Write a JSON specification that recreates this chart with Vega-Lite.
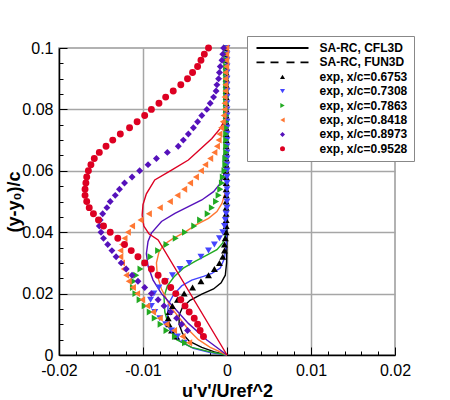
{
  "$schema": "https://vega.github.io/schema/vega-lite/v6.json",
  "width": 336,
  "height": 307,
  "autosize": "none",
  "padding": {"left": 59, "top": 48, "right": 55, "bottom": 45},
  "config": {
    "font": "Liberation Sans",
    "view": {"stroke": "#999999", "strokeWidth": 1.5}
  },
  "datasets": {
    "exp": [
      {"series": "exp, x/c=0.6753", "x": -0.0001, "y": 0.1},
      {"series": "exp, x/c=0.6753", "x": -0.0001, "y": 0.098},
      {"series": "exp, x/c=0.6753", "x": -0.0001, "y": 0.096},
      {"series": "exp, x/c=0.6753", "x": -0.0001, "y": 0.094},
      {"series": "exp, x/c=0.6753", "x": -0.0001, "y": 0.092},
      {"series": "exp, x/c=0.6753", "x": -0.0001, "y": 0.09},
      {"series": "exp, x/c=0.6753", "x": -0.0001, "y": 0.088},
      {"series": "exp, x/c=0.6753", "x": -0.0001, "y": 0.086},
      {"series": "exp, x/c=0.6753", "x": -0.0001, "y": 0.084},
      {"series": "exp, x/c=0.6753", "x": -0.0001, "y": 0.082},
      {"series": "exp, x/c=0.6753", "x": -0.0001, "y": 0.08},
      {"series": "exp, x/c=0.6753", "x": -0.0001, "y": 0.078},
      {"series": "exp, x/c=0.6753", "x": -0.0001, "y": 0.076},
      {"series": "exp, x/c=0.6753", "x": -0.0001, "y": 0.074},
      {"series": "exp, x/c=0.6753", "x": -0.0001, "y": 0.072},
      {"series": "exp, x/c=0.6753", "x": -0.0001, "y": 0.07},
      {"series": "exp, x/c=0.6753", "x": -0.0001, "y": 0.068},
      {"series": "exp, x/c=0.6753", "x": -0.0001, "y": 0.066},
      {"series": "exp, x/c=0.6753", "x": -0.0001, "y": 0.064},
      {"series": "exp, x/c=0.6753", "x": -0.0001, "y": 0.062},
      {"series": "exp, x/c=0.6753", "x": -0.0001, "y": 0.06},
      {"series": "exp, x/c=0.6753", "x": -0.0001, "y": 0.058},
      {"series": "exp, x/c=0.6753", "x": -0.0001, "y": 0.056},
      {"series": "exp, x/c=0.6753", "x": -0.0001, "y": 0.054},
      {"series": "exp, x/c=0.6753", "x": -0.0001, "y": 0.052},
      {"series": "exp, x/c=0.6753", "x": -0.0001, "y": 0.05},
      {"series": "exp, x/c=0.6753", "x": -0.0001, "y": 0.048},
      {"series": "exp, x/c=0.6753", "x": -0.0001, "y": 0.046},
      {"series": "exp, x/c=0.6753", "x": -0.0001, "y": 0.044},
      {"series": "exp, x/c=0.6753", "x": -0.0001, "y": 0.042},
      {"series": "exp, x/c=0.6753", "x": -0.0001, "y": 0.04},
      {"series": "exp, x/c=0.6753", "x": -0.0002, "y": 0.038},
      {"series": "exp, x/c=0.6753", "x": -0.0003, "y": 0.036},
      {"series": "exp, x/c=0.6753", "x": -0.0003, "y": 0.034},
      {"series": "exp, x/c=0.6753", "x": -0.0005, "y": 0.032},
      {"series": "exp, x/c=0.6753", "x": -0.0009, "y": 0.03},
      {"series": "exp, x/c=0.6753", "x": -0.0015, "y": 0.028},
      {"series": "exp, x/c=0.6753", "x": -0.0022, "y": 0.026},
      {"series": "exp, x/c=0.6753", "x": -0.0031, "y": 0.024},
      {"series": "exp, x/c=0.6753", "x": -0.0041, "y": 0.022},
      {"series": "exp, x/c=0.6753", "x": -0.0051, "y": 0.02},
      {"series": "exp, x/c=0.6753", "x": -0.0059, "y": 0.018},
      {"series": "exp, x/c=0.6753", "x": -0.0065, "y": 0.016},
      {"series": "exp, x/c=0.6753", "x": -0.0069, "y": 0.014},
      {"series": "exp, x/c=0.6753", "x": -0.007, "y": 0.012},
      {"series": "exp, x/c=0.6753", "x": -0.0069, "y": 0.01},
      {"series": "exp, x/c=0.6753", "x": -0.0066, "y": 0.008},
      {"series": "exp, x/c=0.6753", "x": -0.006, "y": 0.006},
      {"series": "exp, x/c=0.7308", "x": 0, "y": 0.1},
      {"series": "exp, x/c=0.7308", "x": 0, "y": 0.098},
      {"series": "exp, x/c=0.7308", "x": 0, "y": 0.096},
      {"series": "exp, x/c=0.7308", "x": 0, "y": 0.094},
      {"series": "exp, x/c=0.7308", "x": 0, "y": 0.092},
      {"series": "exp, x/c=0.7308", "x": 0, "y": 0.09},
      {"series": "exp, x/c=0.7308", "x": 0, "y": 0.088},
      {"series": "exp, x/c=0.7308", "x": 0, "y": 0.086},
      {"series": "exp, x/c=0.7308", "x": 0, "y": 0.084},
      {"series": "exp, x/c=0.7308", "x": 0, "y": 0.082},
      {"series": "exp, x/c=0.7308", "x": 0, "y": 0.08},
      {"series": "exp, x/c=0.7308", "x": 0, "y": 0.078},
      {"series": "exp, x/c=0.7308", "x": 0, "y": 0.076},
      {"series": "exp, x/c=0.7308", "x": 0, "y": 0.074},
      {"series": "exp, x/c=0.7308", "x": 0, "y": 0.072},
      {"series": "exp, x/c=0.7308", "x": 0, "y": 0.07},
      {"series": "exp, x/c=0.7308", "x": 0, "y": 0.068},
      {"series": "exp, x/c=0.7308", "x": 0, "y": 0.066},
      {"series": "exp, x/c=0.7308", "x": 0, "y": 0.064},
      {"series": "exp, x/c=0.7308", "x": 0, "y": 0.062},
      {"series": "exp, x/c=0.7308", "x": 0, "y": 0.06},
      {"series": "exp, x/c=0.7308", "x": 0, "y": 0.058},
      {"series": "exp, x/c=0.7308", "x": 0, "y": 0.056},
      {"series": "exp, x/c=0.7308", "x": 0, "y": 0.054},
      {"series": "exp, x/c=0.7308", "x": 0, "y": 0.052},
      {"series": "exp, x/c=0.7308", "x": 0, "y": 0.05},
      {"series": "exp, x/c=0.7308", "x": 0, "y": 0.048},
      {"series": "exp, x/c=0.7308", "x": -0.0001, "y": 0.046},
      {"series": "exp, x/c=0.7308", "x": -0.0002, "y": 0.044},
      {"series": "exp, x/c=0.7308", "x": -0.0003, "y": 0.042},
      {"series": "exp, x/c=0.7308", "x": -0.0005, "y": 0.04},
      {"series": "exp, x/c=0.7308", "x": -0.0009, "y": 0.038},
      {"series": "exp, x/c=0.7308", "x": -0.0015, "y": 0.036},
      {"series": "exp, x/c=0.7308", "x": -0.0022, "y": 0.034},
      {"series": "exp, x/c=0.7308", "x": -0.0031, "y": 0.032},
      {"series": "exp, x/c=0.7308", "x": -0.0045, "y": 0.03},
      {"series": "exp, x/c=0.7308", "x": -0.0056, "y": 0.028},
      {"series": "exp, x/c=0.7308", "x": -0.0065, "y": 0.026},
      {"series": "exp, x/c=0.7308", "x": -0.0073, "y": 0.024},
      {"series": "exp, x/c=0.7308", "x": -0.0081, "y": 0.022},
      {"series": "exp, x/c=0.7308", "x": -0.0087, "y": 0.02},
      {"series": "exp, x/c=0.7308", "x": -0.0091, "y": 0.018},
      {"series": "exp, x/c=0.7308", "x": -0.009, "y": 0.016},
      {"series": "exp, x/c=0.7308", "x": -0.0086, "y": 0.014},
      {"series": "exp, x/c=0.7308", "x": -0.008, "y": 0.012},
      {"series": "exp, x/c=0.7308", "x": -0.0073, "y": 0.01},
      {"series": "exp, x/c=0.7308", "x": -0.0066, "y": 0.008},
      {"series": "exp, x/c=0.7308", "x": -0.0059, "y": 0.006},
      {"series": "exp, x/c=0.7308", "x": -0.0051, "y": 0.004},
      {"series": "exp, x/c=0.7863", "x": -0.0001, "y": 0.1},
      {"series": "exp, x/c=0.7863", "x": -0.0001, "y": 0.098},
      {"series": "exp, x/c=0.7863", "x": -0.0001, "y": 0.096},
      {"series": "exp, x/c=0.7863", "x": -0.0001, "y": 0.094},
      {"series": "exp, x/c=0.7863", "x": -0.0001, "y": 0.092},
      {"series": "exp, x/c=0.7863", "x": -0.0001, "y": 0.09},
      {"series": "exp, x/c=0.7863", "x": -0.0001, "y": 0.088},
      {"series": "exp, x/c=0.7863", "x": -0.0001, "y": 0.086},
      {"series": "exp, x/c=0.7863", "x": -0.0001, "y": 0.084},
      {"series": "exp, x/c=0.7863", "x": -0.0001, "y": 0.082},
      {"series": "exp, x/c=0.7863", "x": -0.0001, "y": 0.08},
      {"series": "exp, x/c=0.7863", "x": -0.0001, "y": 0.078},
      {"series": "exp, x/c=0.7863", "x": -0.0001, "y": 0.076},
      {"series": "exp, x/c=0.7863", "x": -0.0001, "y": 0.074},
      {"series": "exp, x/c=0.7863", "x": -0.0001, "y": 0.072},
      {"series": "exp, x/c=0.7863", "x": -0.0001, "y": 0.07},
      {"series": "exp, x/c=0.7863", "x": -0.0001, "y": 0.068},
      {"series": "exp, x/c=0.7863", "x": -0.0001, "y": 0.066},
      {"series": "exp, x/c=0.7863", "x": -0.0002, "y": 0.064},
      {"series": "exp, x/c=0.7863", "x": -0.0002, "y": 0.062},
      {"series": "exp, x/c=0.7863", "x": -0.0003, "y": 0.06},
      {"series": "exp, x/c=0.7863", "x": -0.0005, "y": 0.058},
      {"series": "exp, x/c=0.7863", "x": -0.0006, "y": 0.056},
      {"series": "exp, x/c=0.7863", "x": -0.0008, "y": 0.054},
      {"series": "exp, x/c=0.7863", "x": -0.001, "y": 0.052},
      {"series": "exp, x/c=0.7863", "x": -0.0013, "y": 0.05},
      {"series": "exp, x/c=0.7863", "x": -0.0018, "y": 0.048},
      {"series": "exp, x/c=0.7863", "x": -0.0023, "y": 0.046},
      {"series": "exp, x/c=0.7863", "x": -0.0032, "y": 0.044},
      {"series": "exp, x/c=0.7863", "x": -0.0039, "y": 0.042},
      {"series": "exp, x/c=0.7863", "x": -0.005, "y": 0.04},
      {"series": "exp, x/c=0.7863", "x": -0.0061, "y": 0.038},
      {"series": "exp, x/c=0.7863", "x": -0.0072, "y": 0.036},
      {"series": "exp, x/c=0.7863", "x": -0.0082, "y": 0.034},
      {"series": "exp, x/c=0.7863", "x": -0.0091, "y": 0.032},
      {"series": "exp, x/c=0.7863", "x": -0.0098, "y": 0.03},
      {"series": "exp, x/c=0.7863", "x": -0.0103, "y": 0.028},
      {"series": "exp, x/c=0.7863", "x": -0.0108, "y": 0.026},
      {"series": "exp, x/c=0.7863", "x": -0.0111, "y": 0.024},
      {"series": "exp, x/c=0.7863", "x": -0.0112, "y": 0.022},
      {"series": "exp, x/c=0.7863", "x": -0.0109, "y": 0.02},
      {"series": "exp, x/c=0.7863", "x": -0.0104, "y": 0.018},
      {"series": "exp, x/c=0.7863", "x": -0.0098, "y": 0.016},
      {"series": "exp, x/c=0.7863", "x": -0.0092, "y": 0.014},
      {"series": "exp, x/c=0.7863", "x": -0.0086, "y": 0.012},
      {"series": "exp, x/c=0.7863", "x": -0.0079, "y": 0.01},
      {"series": "exp, x/c=0.7863", "x": -0.0072, "y": 0.008},
      {"series": "exp, x/c=0.7863", "x": -0.0062, "y": 0.006},
      {"series": "exp, x/c=0.7863", "x": -0.005, "y": 0.004},
      {"series": "exp, x/c=0.8418", "x": -0.0001, "y": 0.1},
      {"series": "exp, x/c=0.8418", "x": -0.0001, "y": 0.098},
      {"series": "exp, x/c=0.8418", "x": -0.0001, "y": 0.096},
      {"series": "exp, x/c=0.8418", "x": -0.0001, "y": 0.094},
      {"series": "exp, x/c=0.8418", "x": -0.0002, "y": 0.092},
      {"series": "exp, x/c=0.8418", "x": -0.0002, "y": 0.09},
      {"series": "exp, x/c=0.8418", "x": -0.0002, "y": 0.088},
      {"series": "exp, x/c=0.8418", "x": -0.0002, "y": 0.086},
      {"series": "exp, x/c=0.8418", "x": -0.0003, "y": 0.084},
      {"series": "exp, x/c=0.8418", "x": -0.0003, "y": 0.082},
      {"series": "exp, x/c=0.8418", "x": -0.0003, "y": 0.08},
      {"series": "exp, x/c=0.8418", "x": -0.0004, "y": 0.078},
      {"series": "exp, x/c=0.8418", "x": -0.0005, "y": 0.076},
      {"series": "exp, x/c=0.8418", "x": -0.0007, "y": 0.074},
      {"series": "exp, x/c=0.8418", "x": -0.0009, "y": 0.072},
      {"series": "exp, x/c=0.8418", "x": -0.001, "y": 0.07},
      {"series": "exp, x/c=0.8418", "x": -0.0012, "y": 0.068},
      {"series": "exp, x/c=0.8418", "x": -0.0015, "y": 0.066},
      {"series": "exp, x/c=0.8418", "x": -0.002, "y": 0.064},
      {"series": "exp, x/c=0.8418", "x": -0.0026, "y": 0.062},
      {"series": "exp, x/c=0.8418", "x": -0.0031, "y": 0.06},
      {"series": "exp, x/c=0.8418", "x": -0.0037, "y": 0.058},
      {"series": "exp, x/c=0.8418", "x": -0.0044, "y": 0.056},
      {"series": "exp, x/c=0.8418", "x": -0.0051, "y": 0.054},
      {"series": "exp, x/c=0.8418", "x": -0.0059, "y": 0.052},
      {"series": "exp, x/c=0.8418", "x": -0.0068, "y": 0.05},
      {"series": "exp, x/c=0.8418", "x": -0.008, "y": 0.048},
      {"series": "exp, x/c=0.8418", "x": -0.0093, "y": 0.046},
      {"series": "exp, x/c=0.8418", "x": -0.0103, "y": 0.044},
      {"series": "exp, x/c=0.8418", "x": -0.0113, "y": 0.042},
      {"series": "exp, x/c=0.8418", "x": -0.0118, "y": 0.04},
      {"series": "exp, x/c=0.8418", "x": -0.0122, "y": 0.038},
      {"series": "exp, x/c=0.8418", "x": -0.0125, "y": 0.036},
      {"series": "exp, x/c=0.8418", "x": -0.0127, "y": 0.034},
      {"series": "exp, x/c=0.8418", "x": -0.0127, "y": 0.032},
      {"series": "exp, x/c=0.8418", "x": -0.0125, "y": 0.03},
      {"series": "exp, x/c=0.8418", "x": -0.0123, "y": 0.028},
      {"series": "exp, x/c=0.8418", "x": -0.012, "y": 0.026},
      {"series": "exp, x/c=0.8418", "x": -0.0117, "y": 0.024},
      {"series": "exp, x/c=0.8418", "x": -0.0112, "y": 0.022},
      {"series": "exp, x/c=0.8418", "x": -0.0107, "y": 0.02},
      {"series": "exp, x/c=0.8418", "x": -0.0101, "y": 0.018},
      {"series": "exp, x/c=0.8418", "x": -0.0095, "y": 0.016},
      {"series": "exp, x/c=0.8418", "x": -0.0088, "y": 0.014},
      {"series": "exp, x/c=0.8418", "x": -0.008, "y": 0.012},
      {"series": "exp, x/c=0.8418", "x": -0.0072, "y": 0.01},
      {"series": "exp, x/c=0.8418", "x": -0.0063, "y": 0.008},
      {"series": "exp, x/c=0.8418", "x": -0.0053, "y": 0.006},
      {"series": "exp, x/c=0.8418", "x": -0.0045, "y": 0.004},
      {"series": "exp, x/c=0.8973", "x": -0.0004, "y": 0.1},
      {"series": "exp, x/c=0.8973", "x": -0.0005, "y": 0.098},
      {"series": "exp, x/c=0.8973", "x": -0.0006, "y": 0.096},
      {"series": "exp, x/c=0.8973", "x": -0.0008, "y": 0.094},
      {"series": "exp, x/c=0.8973", "x": -0.0009, "y": 0.092},
      {"series": "exp, x/c=0.8973", "x": -0.001, "y": 0.09},
      {"series": "exp, x/c=0.8973", "x": -0.0012, "y": 0.088},
      {"series": "exp, x/c=0.8973", "x": -0.0013, "y": 0.086},
      {"series": "exp, x/c=0.8973", "x": -0.0016, "y": 0.084},
      {"series": "exp, x/c=0.8973", "x": -0.002, "y": 0.082},
      {"series": "exp, x/c=0.8973", "x": -0.0024, "y": 0.08},
      {"series": "exp, x/c=0.8973", "x": -0.003, "y": 0.078},
      {"series": "exp, x/c=0.8973", "x": -0.0035, "y": 0.076},
      {"series": "exp, x/c=0.8973", "x": -0.004, "y": 0.074},
      {"series": "exp, x/c=0.8973", "x": -0.0046, "y": 0.072},
      {"series": "exp, x/c=0.8973", "x": -0.0052, "y": 0.07},
      {"series": "exp, x/c=0.8973", "x": -0.0058, "y": 0.068},
      {"series": "exp, x/c=0.8973", "x": -0.0071, "y": 0.066},
      {"series": "exp, x/c=0.8973", "x": -0.0084, "y": 0.064},
      {"series": "exp, x/c=0.8973", "x": -0.0094, "y": 0.062},
      {"series": "exp, x/c=0.8973", "x": -0.0104, "y": 0.06},
      {"series": "exp, x/c=0.8973", "x": -0.0113, "y": 0.058},
      {"series": "exp, x/c=0.8973", "x": -0.0122, "y": 0.056},
      {"series": "exp, x/c=0.8973", "x": -0.0128, "y": 0.054},
      {"series": "exp, x/c=0.8973", "x": -0.0133, "y": 0.052},
      {"series": "exp, x/c=0.8973", "x": -0.0139, "y": 0.05},
      {"series": "exp, x/c=0.8973", "x": -0.0143, "y": 0.048},
      {"series": "exp, x/c=0.8973", "x": -0.0148, "y": 0.046},
      {"series": "exp, x/c=0.8973", "x": -0.0151, "y": 0.044},
      {"series": "exp, x/c=0.8973", "x": -0.0152, "y": 0.042},
      {"series": "exp, x/c=0.8973", "x": -0.015, "y": 0.04},
      {"series": "exp, x/c=0.8973", "x": -0.0147, "y": 0.038},
      {"series": "exp, x/c=0.8973", "x": -0.0142, "y": 0.036},
      {"series": "exp, x/c=0.8973", "x": -0.0137, "y": 0.034},
      {"series": "exp, x/c=0.8973", "x": -0.0132, "y": 0.032},
      {"series": "exp, x/c=0.8973", "x": -0.0126, "y": 0.03},
      {"series": "exp, x/c=0.8973", "x": -0.012, "y": 0.028},
      {"series": "exp, x/c=0.8973", "x": -0.0113, "y": 0.026},
      {"series": "exp, x/c=0.8973", "x": -0.0106, "y": 0.024},
      {"series": "exp, x/c=0.8973", "x": -0.0098, "y": 0.022},
      {"series": "exp, x/c=0.8973", "x": -0.009, "y": 0.02},
      {"series": "exp, x/c=0.8973", "x": -0.0082, "y": 0.018},
      {"series": "exp, x/c=0.8973", "x": -0.0075, "y": 0.016},
      {"series": "exp, x/c=0.8973", "x": -0.0067, "y": 0.014},
      {"series": "exp, x/c=0.8973", "x": -0.006, "y": 0.012},
      {"series": "exp, x/c=0.8973", "x": -0.0054, "y": 0.01},
      {"series": "exp, x/c=0.8973", "x": -0.0047, "y": 0.008},
      {"series": "exp, x/c=0.9528", "x": -0.0022, "y": 0.1},
      {"series": "exp, x/c=0.9528", "x": -0.0027, "y": 0.098},
      {"series": "exp, x/c=0.9528", "x": -0.0031, "y": 0.096},
      {"series": "exp, x/c=0.9528", "x": -0.0035, "y": 0.094},
      {"series": "exp, x/c=0.9528", "x": -0.0041, "y": 0.092},
      {"series": "exp, x/c=0.9528", "x": -0.0047, "y": 0.09},
      {"series": "exp, x/c=0.9528", "x": -0.0055, "y": 0.088},
      {"series": "exp, x/c=0.9528", "x": -0.0064, "y": 0.086},
      {"series": "exp, x/c=0.9528", "x": -0.0073, "y": 0.084},
      {"series": "exp, x/c=0.9528", "x": -0.0081, "y": 0.082},
      {"series": "exp, x/c=0.9528", "x": -0.009, "y": 0.08},
      {"series": "exp, x/c=0.9528", "x": -0.0098, "y": 0.078},
      {"series": "exp, x/c=0.9528", "x": -0.0107, "y": 0.076},
      {"series": "exp, x/c=0.9528", "x": -0.0116, "y": 0.074},
      {"series": "exp, x/c=0.9528", "x": -0.0127, "y": 0.072},
      {"series": "exp, x/c=0.9528", "x": -0.0136, "y": 0.07},
      {"series": "exp, x/c=0.9528", "x": -0.0144, "y": 0.068},
      {"series": "exp, x/c=0.9528", "x": -0.0152, "y": 0.066},
      {"series": "exp, x/c=0.9528", "x": -0.0158, "y": 0.064},
      {"series": "exp, x/c=0.9528", "x": -0.0162, "y": 0.062},
      {"series": "exp, x/c=0.9528", "x": -0.0165, "y": 0.06},
      {"series": "exp, x/c=0.9528", "x": -0.0167, "y": 0.058},
      {"series": "exp, x/c=0.9528", "x": -0.0168, "y": 0.056},
      {"series": "exp, x/c=0.9528", "x": -0.0169, "y": 0.054},
      {"series": "exp, x/c=0.9528", "x": -0.0169, "y": 0.052},
      {"series": "exp, x/c=0.9528", "x": -0.0167, "y": 0.05},
      {"series": "exp, x/c=0.9528", "x": -0.0164, "y": 0.048},
      {"series": "exp, x/c=0.9528", "x": -0.0159, "y": 0.046},
      {"series": "exp, x/c=0.9528", "x": -0.0153, "y": 0.044},
      {"series": "exp, x/c=0.9528", "x": -0.0147, "y": 0.042},
      {"series": "exp, x/c=0.9528", "x": -0.0139, "y": 0.04},
      {"series": "exp, x/c=0.9528", "x": -0.013, "y": 0.038},
      {"series": "exp, x/c=0.9528", "x": -0.0122, "y": 0.036},
      {"series": "exp, x/c=0.9528", "x": -0.0114, "y": 0.034},
      {"series": "exp, x/c=0.9528", "x": -0.0106, "y": 0.032},
      {"series": "exp, x/c=0.9528", "x": -0.0098, "y": 0.03},
      {"series": "exp, x/c=0.9528", "x": -0.009, "y": 0.028},
      {"series": "exp, x/c=0.9528", "x": -0.0082, "y": 0.026},
      {"series": "exp, x/c=0.9528", "x": -0.0074, "y": 0.024},
      {"series": "exp, x/c=0.9528", "x": -0.0067, "y": 0.022},
      {"series": "exp, x/c=0.9528", "x": -0.0061, "y": 0.02},
      {"series": "exp, x/c=0.9528", "x": -0.0055, "y": 0.018},
      {"series": "exp, x/c=0.9528", "x": -0.005, "y": 0.016},
      {"series": "exp, x/c=0.9528", "x": -0.0045, "y": 0.014},
      {"series": "exp, x/c=0.9528", "x": -0.0039, "y": 0.012},
      {"series": "exp, x/c=0.9528", "x": -0.0035, "y": 0.01},
      {"series": "exp, x/c=0.9528", "x": -0.0032, "y": 0.008},
      {"series": "exp, x/c=0.9528", "x": -0.0028, "y": 0.006}
    ],
    "model": [
      {"series": "exp, x/c=0.6753", "x": 0, "y": 0},
      {"series": "exp, x/c=0.6753", "x": -0.0015, "y": 0.001},
      {"series": "exp, x/c=0.6753", "x": -0.003, "y": 0.0025},
      {"series": "exp, x/c=0.6753", "x": -0.0045, "y": 0.0045},
      {"series": "exp, x/c=0.6753", "x": -0.0053, "y": 0.007},
      {"series": "exp, x/c=0.6753", "x": -0.0057, "y": 0.01},
      {"series": "exp, x/c=0.6753", "x": -0.0057, "y": 0.013},
      {"series": "exp, x/c=0.6753", "x": -0.0053, "y": 0.0155},
      {"series": "exp, x/c=0.6753", "x": -0.0044, "y": 0.0178},
      {"series": "exp, x/c=0.6753", "x": -0.003, "y": 0.0198},
      {"series": "exp, x/c=0.6753", "x": -0.0016, "y": 0.0215},
      {"series": "exp, x/c=0.6753", "x": -0.0007, "y": 0.0235},
      {"series": "exp, x/c=0.6753", "x": -0.0002, "y": 0.026},
      {"series": "exp, x/c=0.6753", "x": -0.00005, "y": 0.03},
      {"series": "exp, x/c=0.6753", "x": 0, "y": 0.04},
      {"series": "exp, x/c=0.6753", "x": 0, "y": 0.1},
      {"series": "exp, x/c=0.7308", "x": 0, "y": 0},
      {"series": "exp, x/c=0.7308", "x": -0.002, "y": 0.0008},
      {"series": "exp, x/c=0.7308", "x": -0.004, "y": 0.0022},
      {"series": "exp, x/c=0.7308", "x": -0.0056, "y": 0.0045},
      {"series": "exp, x/c=0.7308", "x": -0.0066, "y": 0.008},
      {"series": "exp, x/c=0.7308", "x": -0.0071, "y": 0.012},
      {"series": "exp, x/c=0.7308", "x": -0.007, "y": 0.0165},
      {"series": "exp, x/c=0.7308", "x": -0.0064, "y": 0.0195},
      {"series": "exp, x/c=0.7308", "x": -0.0054, "y": 0.0225},
      {"series": "exp, x/c=0.7308", "x": -0.0042, "y": 0.0244},
      {"series": "exp, x/c=0.7308", "x": -0.0028, "y": 0.0256},
      {"series": "exp, x/c=0.7308", "x": -0.0018, "y": 0.0266},
      {"series": "exp, x/c=0.7308", "x": -0.0008, "y": 0.0283},
      {"series": "exp, x/c=0.7308", "x": -0.0003, "y": 0.0315},
      {"series": "exp, x/c=0.7308", "x": -0.0001, "y": 0.036},
      {"series": "exp, x/c=0.7308", "x": 0, "y": 0.045},
      {"series": "exp, x/c=0.7308", "x": 0, "y": 0.1},
      {"series": "exp, x/c=0.7863", "x": 0, "y": 0},
      {"series": "exp, x/c=0.7863", "x": -0.002, "y": 0.001},
      {"series": "exp, x/c=0.7863", "x": -0.0042, "y": 0.0025},
      {"series": "exp, x/c=0.7863", "x": -0.006, "y": 0.005},
      {"series": "exp, x/c=0.7863", "x": -0.0069, "y": 0.009},
      {"series": "exp, x/c=0.7863", "x": -0.0074, "y": 0.014},
      {"series": "exp, x/c=0.7863", "x": -0.0075, "y": 0.019},
      {"series": "exp, x/c=0.7863", "x": -0.0071, "y": 0.0225},
      {"series": "exp, x/c=0.7863", "x": -0.0063, "y": 0.0255},
      {"series": "exp, x/c=0.7863", "x": -0.0052, "y": 0.0283},
      {"series": "exp, x/c=0.7863", "x": -0.0038, "y": 0.0305},
      {"series": "exp, x/c=0.7863", "x": -0.0024, "y": 0.0325},
      {"series": "exp, x/c=0.7863", "x": -0.0012, "y": 0.0343},
      {"series": "exp, x/c=0.7863", "x": -0.0005, "y": 0.0365},
      {"series": "exp, x/c=0.7863", "x": -0.0002, "y": 0.039},
      {"series": "exp, x/c=0.7863", "x": 0, "y": 0.045},
      {"series": "exp, x/c=0.7863", "x": 0, "y": 0.1},
      {"series": "exp, x/c=0.8418", "x": 0, "y": 0},
      {"series": "exp, x/c=0.8418", "x": -0.002, "y": 0.0025},
      {"series": "exp, x/c=0.8418", "x": -0.0034, "y": 0.005},
      {"series": "exp, x/c=0.8418", "x": -0.0045, "y": 0.008},
      {"series": "exp, x/c=0.8418", "x": -0.0056, "y": 0.0118},
      {"series": "exp, x/c=0.8418", "x": -0.0068, "y": 0.016},
      {"series": "exp, x/c=0.8418", "x": -0.0078, "y": 0.0215},
      {"series": "exp, x/c=0.8418", "x": -0.0083, "y": 0.026},
      {"series": "exp, x/c=0.8418", "x": -0.0084, "y": 0.03},
      {"series": "exp, x/c=0.8418", "x": -0.0081, "y": 0.0335},
      {"series": "exp, x/c=0.8418", "x": -0.0075, "y": 0.036},
      {"series": "exp, x/c=0.8418", "x": -0.0064, "y": 0.038},
      {"series": "exp, x/c=0.8418", "x": -0.005, "y": 0.04},
      {"series": "exp, x/c=0.8418", "x": -0.0037, "y": 0.0424},
      {"series": "exp, x/c=0.8418", "x": -0.0022, "y": 0.0445},
      {"series": "exp, x/c=0.8418", "x": -0.0012, "y": 0.0467},
      {"series": "exp, x/c=0.8418", "x": -0.0006, "y": 0.0494},
      {"series": "exp, x/c=0.8418", "x": -0.0002, "y": 0.053},
      {"series": "exp, x/c=0.8418", "x": 0, "y": 0.058},
      {"series": "exp, x/c=0.8418", "x": 0, "y": 0.1},
      {"series": "exp, x/c=0.8973", "x": 0, "y": 0},
      {"series": "exp, x/c=0.8973", "x": -0.0024, "y": 0.0049},
      {"series": "exp, x/c=0.8973", "x": -0.0046, "y": 0.0103},
      {"series": "exp, x/c=0.8973", "x": -0.0064, "y": 0.0157},
      {"series": "exp, x/c=0.8973", "x": -0.0078, "y": 0.02},
      {"series": "exp, x/c=0.8973", "x": -0.0088, "y": 0.0244},
      {"series": "exp, x/c=0.8973", "x": -0.0094, "y": 0.029},
      {"series": "exp, x/c=0.8973", "x": -0.0096, "y": 0.033},
      {"series": "exp, x/c=0.8973", "x": -0.0094, "y": 0.037},
      {"series": "exp, x/c=0.8973", "x": -0.009, "y": 0.0397},
      {"series": "exp, x/c=0.8973", "x": -0.0078, "y": 0.0435},
      {"series": "exp, x/c=0.8973", "x": -0.0062, "y": 0.0461},
      {"series": "exp, x/c=0.8973", "x": -0.0046, "y": 0.0483},
      {"series": "exp, x/c=0.8973", "x": -0.003, "y": 0.0505},
      {"series": "exp, x/c=0.8973", "x": -0.0016, "y": 0.0532},
      {"series": "exp, x/c=0.8973", "x": -0.0008, "y": 0.0559},
      {"series": "exp, x/c=0.8973", "x": -0.0004, "y": 0.0586},
      {"series": "exp, x/c=0.8973", "x": -0.0002, "y": 0.0613},
      {"series": "exp, x/c=0.8973", "x": 0, "y": 0.065},
      {"series": "exp, x/c=0.8973", "x": 0, "y": 0.1},
      {"series": "exp, x/c=0.9528", "x": 0, "y": 0},
      {"series": "exp, x/c=0.9528", "x": -0.0082, "y": 0.0375},
      {"series": "exp, x/c=0.9528", "x": -0.0093, "y": 0.0395},
      {"series": "exp, x/c=0.9528", "x": -0.0099, "y": 0.042},
      {"series": "exp, x/c=0.9528", "x": -0.0101, "y": 0.0455},
      {"series": "exp, x/c=0.9528", "x": -0.01, "y": 0.049},
      {"series": "exp, x/c=0.9528", "x": -0.0096, "y": 0.0525},
      {"series": "exp, x/c=0.9528", "x": -0.0086, "y": 0.057},
      {"series": "exp, x/c=0.9528", "x": -0.0066, "y": 0.0602},
      {"series": "exp, x/c=0.9528", "x": -0.0046, "y": 0.0635},
      {"series": "exp, x/c=0.9528", "x": -0.003, "y": 0.0675},
      {"series": "exp, x/c=0.9528", "x": -0.0018, "y": 0.0705},
      {"series": "exp, x/c=0.9528", "x": -0.0008, "y": 0.0738},
      {"series": "exp, x/c=0.9528", "x": -0.0003, "y": 0.0765},
      {"series": "exp, x/c=0.9528", "x": 0, "y": 0.08},
      {"series": "exp, x/c=0.9528", "x": 0, "y": 0.1}
    ]
  },
  "encoding": {
    "x": {
      "field": "x",
      "type": "quantitative",
      "scale": {"domain": [-0.02, 0.02], "nice": false, "zero": false},
      "axis": {
        "title": "u'v'/Uref^2",
        "titleFont": "Liberation Sans",
        "titleFontSize": 18,
        "titleFontWeight": "bold",
        "titleColor": "black",
        "titlePadding": 0,
        "values": [-0.02, -0.018, -0.016, -0.014, -0.012, -0.01, -0.008, -0.006, -0.004, -0.002, 0, 0.002, 0.004, 0.006, 0.008, 0.01, 0.012, 0.014, 0.016, 0.018, 0.02],
        "labelExpr": "indexof([-0.02, -0.01, 0, 0.01, 0.02], datum.value) >= 0 ? datum.value + '' : ''",
        "labelFontSize": 16,
        "labelColor": "black",
        "labelPadding": 15,
        "labelFlush": false,
        "labelOverlap": false,
        "domainColor": "black",
        "domainWidth": 1.5,
        "tickColor": "black",
        "tickSize": {"condition": {"test": "indexof([-0.02, -0.01, 0, 0.01, 0.02], datum.value) >= 0", "value": -8}, "value": -4},
        "grid": true,
        "gridColor": "#a6a6a6",
        "gridWidth": 1.5,
        "gridOpacity": {"condition": {"test": "indexof([-0.01, 0, 0.01], datum.value) >= 0", "value": 1}, "value": 0}
      }
    },
    "y": {
      "field": "y",
      "type": "quantitative",
      "scale": {"domain": [0, 0.1], "nice": false},
      "axis": {
        "title": "(y-y₀)/c",
        "titleFont": "Liberation Sans",
        "titleFontSize": 18,
        "titleFontWeight": "bold",
        "titleColor": "black",
        "titlePadding": -2,
        "values": [0, 0.005, 0.01, 0.015, 0.02, 0.025, 0.03, 0.035, 0.04, 0.045, 0.05, 0.055, 0.06, 0.065, 0.07, 0.075, 0.08, 0.085, 0.09, 0.095, 0.1],
        "labelExpr": "indexof([0, 0.02, 0.04, 0.06, 0.08, 0.1], datum.value) >= 0 ? datum.value + '' : ''",
        "labelFontSize": 16,
        "labelColor": "black",
        "labelPadding": 14,
        "labelFlush": false,
        "labelOverlap": false,
        "domainColor": "black",
        "domainWidth": 1.5,
        "tickColor": "black",
        "tickSize": {"condition": {"test": "indexof([0, 0.02, 0.04, 0.06, 0.08, 0.1], datum.value) >= 0", "value": -8}, "value": -4},
        "grid": true,
        "gridColor": "#a6a6a6",
        "gridWidth": 1.5,
        "gridOpacity": {"condition": {"test": "indexof([0.02, 0.04, 0.06, 0.08], datum.value) >= 0", "value": 1}, "value": 0}
      }
    }
  },
  "layer": [
    {
      "data": {"name": "model"},
      "mark": {"type": "line", "strokeWidth": 1.4},
      "encoding": {
        "stroke": {
          "field": "series",
          "type": "nominal",
          "scale": {
            "domain": ["exp, x/c=0.6753", "exp, x/c=0.7308", "exp, x/c=0.7863", "exp, x/c=0.8418", "exp, x/c=0.8973", "exp, x/c=0.9528"],
            "range": ["#000000", "#4444ff", "#22aa22", "#ff7733", "#5511bb", "#dd0022"]
          },
          "legend": null
        },
        "order": {"field": "y", "type": "quantitative"}
      }
    },
    {
      "data": {"name": "exp"},
      "mark": {"type": "point", "filled": true, "size": 48, "opacity": 1},
      "encoding": {
        "shape": {
          "field": "series",
          "type": "nominal",
          "scale": {
            "domain": ["SA-RC, CFL3D", "SA-RC, FUN3D", "exp, x/c=0.6753", "exp, x/c=0.7308", "exp, x/c=0.7863", "exp, x/c=0.8418", "exp, x/c=0.8973", "exp, x/c=0.9528"],
            "range": [
              "M-10.4,-0.36H10.4V0.36H-10.4Z",
              "M-10.4,-0.36H-7.2V0.36H-10.4ZM-4.8,-0.36H-1.6V0.36H-4.8ZM1.6,-0.36H4.8V0.36H1.6ZM7.2,-0.36H10.4V0.36H7.2Z",
              "triangle-up", "triangle-down", "triangle-right", "triangle-left", "diamond", "circle"
            ]
          }
        },
        "color": {
          "field": "series",
          "type": "nominal",
          "scale": {
            "domain": ["SA-RC, CFL3D", "SA-RC, FUN3D", "exp, x/c=0.6753", "exp, x/c=0.7308", "exp, x/c=0.7863", "exp, x/c=0.8418", "exp, x/c=0.8973", "exp, x/c=0.9528"],
            "range": ["#000000", "#000000", "#000000", "#4444ff", "#22aa22", "#ff7733", "#5511bb", "#dd0022"]
          },
          "legend": {
            "title": null,
            "orient": "none",
            "legendX": 188,
            "legendY": -12,
            "fillColor": "white",
            "strokeColor": "#888888",
            "padding": 6,
            "labelFont": "Liberation Sans",
            "labelFontWeight": "bold",
            "labelFontSize": 12,
            "labelColor": "black",
            "symbolSize": 25,
            "symbolStrokeWidth": 0,
            "symbolOffset": 23.5,
            "labelOffset": 31,
            "rowPadding": 2.4
          }
        }
      }
    }
  ]
}
